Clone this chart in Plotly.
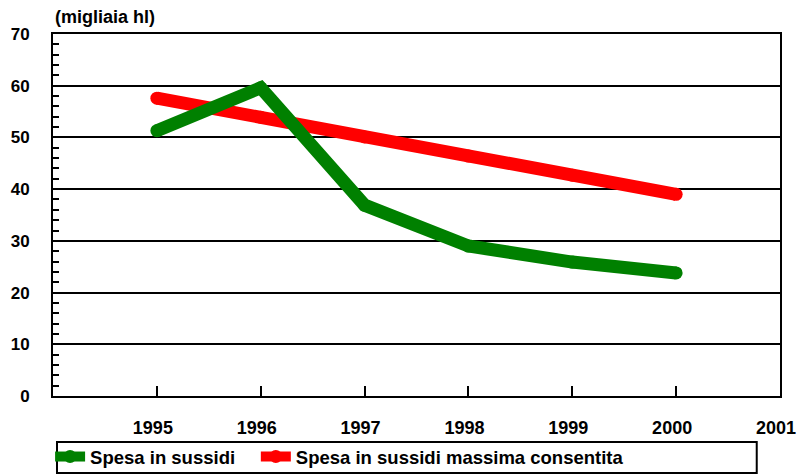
import plotly.graph_objects as go

years = [1995, 1996, 1997, 1998, 1999, 2000]
spesa = [51.3, 59.6, 36.9, 29.0, 25.9, 23.8]
spesa_max = [57.6, 53.9, 50.1, 46.4, 42.7, 39.0]
y_unit_label = "(migliaia hl)"
x_ticks = [1995, 1996, 1997, 1998, 1999, 2000, 2001]
name_spesa = "Spesa in sussidi"
name_max = "Spesa in sussidi massima consentita"

FONT = "Liberation Sans, Arial, sans-serif"
LEG_FONT = dict(family=FONT, size=18.5, color="black", weight="bold")

fig = go.Figure()
fig.add_trace(go.Scatter(
    x=years, y=spesa_max, name=name_max, mode="lines+markers",
    line=dict(color="#FF0000", width=13),
    marker=dict(color="#FF0000", size=13, line=dict(width=0)),
    legend="legend2",
))
fig.add_trace(go.Scatter(
    x=years, y=spesa, name=name_spesa, mode="lines+markers",
    line=dict(color="#008000", width=13),
    marker=dict(color="#008000", size=13, line=dict(width=0)),
    legend="legend",
))

fig.update_layout(
    width=797, height=475,
    margin=dict(l=53, r=17, t=34, b=79, autoexpand=False),
    paper_bgcolor="white", plot_bgcolor="white",
    font=dict(family=FONT, size=17, color="black", weight="bold"),
    showlegend=True,
    legend=dict(
        orientation="h", x=-0.004, xanchor="left", y=-0.1685, yanchor="middle",
        bgcolor="rgba(0,0,0,0)", borderwidth=0, font=LEG_FONT,
    ),
    legend2=dict(
        orientation="h", x=0.279, xanchor="left", y=-0.1685, yanchor="middle",
        bgcolor="rgba(0,0,0,0)", borderwidth=0, font=LEG_FONT,
    ),
    xaxis=dict(
        range=[1994, 2001], tickmode="array", tickvals=x_ticks,
        ticktext=[str(t) for t in x_ticks],
        showgrid=False, zeroline=False, automargin=False,
        showline=True, linecolor="black", linewidth=2, mirror=True,
        ticks="inside", ticklen=10, tickwidth=1.5, tickcolor="black",
        ticklabelstandoff=14, ticklabelshift=-4,
        tickfont=dict(family=FONT, size=18, color="black", weight="bold"),
    ),
    yaxis=dict(
        range=[0, 70], dtick=10, tick0=0,
        showgrid=True, gridcolor="black", gridwidth=1.8,
        zeroline=False, automargin=False,
        showline=True, linecolor="black", linewidth=2, mirror=True,
        ticks="inside", ticklen=12, tickwidth=1.5, tickcolor="black",
        ticklabelstandoff=18,
        tickfont=dict(family=FONT, size=17, color="black", weight="bold"),
        minor=dict(dtick=2, ticks="inside", ticklen=6, tickwidth=1.5,
                   tickcolor="black", showgrid=False),
    ),
    shapes=[dict(
        type="rect", xref="paper", yref="paper",
        x0=0.0055, x1=0.968, y0=-0.213, y1=-0.127,
        line=dict(color="black", width=2), fillcolor="rgba(0,0,0,0)",
        layer="above",
    )],
    annotations=[dict(
        text=y_unit_label, xref="paper", yref="paper",
        x=0.0, y=1.047, xanchor="left", yanchor="middle",
        showarrow=False,
        font=dict(family=FONT, size=18, color="black", weight="bold"),
    )],
)

fig.write_html(
    "out.html",
    config={"displayModeBar": False},
    post_script="document.body.style.margin='0';document.body.style.overflow='hidden';",
)
